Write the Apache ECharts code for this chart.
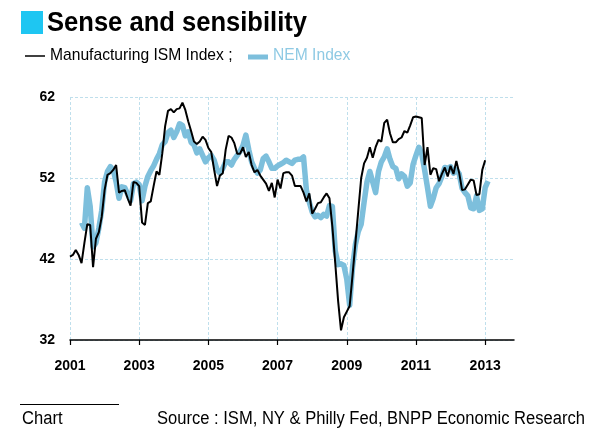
<!DOCTYPE html>
<html>
<head>
<meta charset="utf-8">
<script src="https://cdn.jsdelivr.net/npm/echarts@6/dist/echarts.min.js"></script>
<style>html,body{margin:0;padding:0;background:#fff;}#chart{width:590px;height:433px;}</style>
</head>
<body>
<div id="chart"></div>
<script>
// Monthly data, index 0 = Jan 2001
var xTickLabels = ['2001', '2003', '2005', '2007', '2009', '2011', '2013'];
var monthsPerTick = 24;
var yTicks = [32, 42, 52, 62];

// Manufacturing ISM Index, Jan 2001 .. Jan 2013
var ismStart = 0;
var ismValues = [
  42.3, 42.5, 43.1, 42.5, 41.5, 44.0, 46.3, 46.2, 41.0, 44.5, 45.3, 47.2,
  50.5, 52.4, 52.6, 53.0, 53.6, 50.2, 50.4, 50.5, 49.5, 48.6, 51.5, 51.4,
  51.0, 46.5, 46.2, 48.9, 49.1, 51.0, 52.8, 52.4, 55.0, 58.4, 60.3, 60.5,
  60.1, 60.5, 60.6, 61.3, 60.4, 59.0, 57.8, 56.5, 56.2, 56.5, 57.1, 56.7,
  55.7, 55.2, 53.0, 51.0, 52.3, 52.6, 55.5, 57.2, 57.0, 56.3, 55.0, 55.0,
  55.8, 54.6, 55.2, 53.6, 52.7, 53.0, 52.3, 51.8, 51.3, 50.4, 51.4, 49.6,
  51.8, 50.7, 52.6, 52.7, 52.7, 52.3, 51.0, 51.0, 51.0, 50.2, 49.1, 50.1,
  47.6, 48.2, 48.9, 49.0, 49.6, 50.1, 49.5, 46.0, 41.5, 36.8, 33.2, 34.8,
  35.5, 36.2, 40.0, 44.0, 48.0, 52.0, 53.8, 54.5, 55.8, 54.5, 55.8, 56.7,
  56.5, 58.8, 59.2, 57.5, 56.4, 56.4, 56.8, 57.0, 57.8, 57.6, 58.5, 59.5,
  59.6, 59.5, 59.4, 53.6, 55.8, 52.4, 53.2, 53.1, 51.6, 52.5, 53.3, 52.2,
  53.5, 52.5, 54.1, 52.6, 50.5, 50.6, 51.2, 51.8, 51.7, 49.9, 50.0, 53.0,
  54.2
];

// NEM Index, May 2001 .. Feb 2013
var nemStart = 4;
var nemValues = [
  46.5, 45.8, 50.8, 48.5, 43.5, 44.0, 45.8, 48.0,
  51.5, 52.8, 53.4, 53.0, 51.5, 49.5, 50.9, 50.8, 50.0, 49.2, 51.3, 51.5,
  51.2, 49.2, 51.0, 52.2, 52.9, 53.5, 54.3, 55.0, 56.1, 56.5, 57.6, 57.9,
  57.0, 57.7, 58.7, 58.5, 57.2, 57.7, 56.4, 56.1, 55.1, 55.6, 54.8, 54.0,
  54.5, 54.8, 54.2, 53.0, 52.6, 53.2, 54.0, 54.0, 53.6, 54.3, 54.8, 55.3,
  56.0, 57.3, 55.5, 54.0, 53.2, 52.6, 53.0, 54.4, 54.7, 54.0, 53.2, 53.2,
  53.5, 53.7, 53.9, 54.2, 54.0, 53.8, 54.2, 54.3, 54.3, 54.6, 50.5, 49.0,
  47.8, 47.2, 47.4, 47.1, 47.5, 47.3, 48.6, 48.5, 43.0, 41.3, 41.4, 41.2,
  39.5, 36.3, 41.0, 43.8, 45.4, 46.3, 49.0, 51.5, 52.8, 51.5, 50.2, 52.8,
  54.0, 54.6, 55.6, 54.3, 53.4, 53.2, 51.9, 52.5, 52.2, 51.0, 51.4, 53.7,
  54.8, 55.8, 55.0, 53.0, 50.8, 48.5, 49.5, 50.8, 51.3, 52.2, 53.3, 53.2,
  53.4, 52.6, 53.0, 52.5, 50.7, 50.2, 49.8, 48.3, 48.2, 49.8, 48.0, 48.2,
  50.8, 51.6
];

function toPoints(start, vals) {
  return vals.map(function (v, k) { return [start + k, v]; });
}
var tickValues = xTickLabels.map(function (s, k) { return k * monthsPerTick; });

var chart = echarts.init(document.getElementById('chart'), null, {renderer: 'canvas'});
var font = '"Liberation Sans", Arial, sans-serif';
var gridColor = '#bfdfec';
var nemColor = '#7dbfdc';

chart.setOption({
  animation: false,
  backgroundColor: '#ffffff',
  grid: {left: 70, right: 76, top: 97, bottom: 93, containLabel: false},
  xAxis: {
    type: 'value',
    min: 0,
    max: 154,
    interval: monthsPerTick,
    axisLine: {show: true, lineStyle: {color: '#000', width: 1.5}},
    axisTick: {show: true, length: 5, inside: false, lineStyle: {color: '#000', width: 1.2}, customValues: tickValues},
    axisLabel: {
      customValues: tickValues,
      margin: 19,
      color: '#000',
      fontFamily: font,
      fontWeight: 'bold',
      fontSize: 14,
      formatter: function (v) { var k = Math.round(v / monthsPerTick); return (v % monthsPerTick === 0 && xTickLabels[k]) ? xTickLabels[k] : ''; }
    },
    splitLine: {show: true, lineStyle: {color: gridColor, type: [3, 2], width: 1}}
  },
  yAxis: {
    type: 'value',
    min: yTicks[0],
    max: yTicks[yTicks.length - 1],
    interval: 10,
    axisLine: {show: false},
    axisTick: {show: false},
    axisLabel: {margin: 15, color: '#000', fontFamily: font, fontWeight: 'bold', fontSize: 14},
    splitLine: {show: true, lineStyle: {color: gridColor, type: [3, 2], width: 1}}
  },
  series: [
    {
      name: 'NEM Index',
      type: 'line',
      data: toPoints(nemStart, nemValues),
      showSymbol: false,
      symbol: 'none',
      lineStyle: {color: nemColor, width: 5.5, join: 'round'},
      z: 2
    },
    {
      name: 'Manufacturing ISM Index',
      type: 'line',
      data: toPoints(ismStart, ismValues),
      showSymbol: false,
      symbol: 'none',
      lineStyle: {color: '#000', width: 2},
      z: 3
    }
  ],
  graphic: [
    {type: 'rect', shape: {x: 21, y: 11, width: 22, height: 23}, style: {fill: '#1ec6f2'}},
    {type: 'text', x: 47, y: 23, scaleX: 0.913,
      style: {text: 'Sense and sensibility', font: 'bold 28px ' + font, fill: '#000', verticalAlign: 'middle', align: 'left'}},
    {type: 'line', shape: {x1: 25, y1: 56, x2: 45, y2: 56}, style: {stroke: '#000', lineWidth: 1.5}},
    {type: 'text', x: 50, y: 55, scaleX: 0.92,
      style: {text: 'Manufacturing ISM Index ;', font: '17px ' + font, fill: '#000', verticalAlign: 'middle', align: 'left'}},
    {type: 'line', shape: {x1: 248, y1: 57, x2: 268, y2: 57}, style: {stroke: nemColor, lineWidth: 5}},
    {type: 'text', x: 273, y: 55, scaleX: 0.92,
      style: {text: 'NEM Index', font: '17px ' + font, fill: '#8fcae4', verticalAlign: 'middle', align: 'left'}},
    {type: 'line', shape: {x1: 20, y1: 404.5, x2: 119, y2: 404.5}, style: {stroke: '#000', lineWidth: 1}},
    {type: 'text', x: 22, y: 419, scaleX: 0.92,
      style: {text: 'Chart', font: '18px ' + font, fill: '#000', verticalAlign: 'middle', align: 'left'}},
    {type: 'text', x: 157, y: 419, scaleX: 0.92,
      style: {text: 'Source : ISM, NY & Philly Fed, BNPP Economic Research', font: '18px ' + font, fill: '#000', verticalAlign: 'middle', align: 'left'}}
  ]
});
</script>
</body>
</html>
